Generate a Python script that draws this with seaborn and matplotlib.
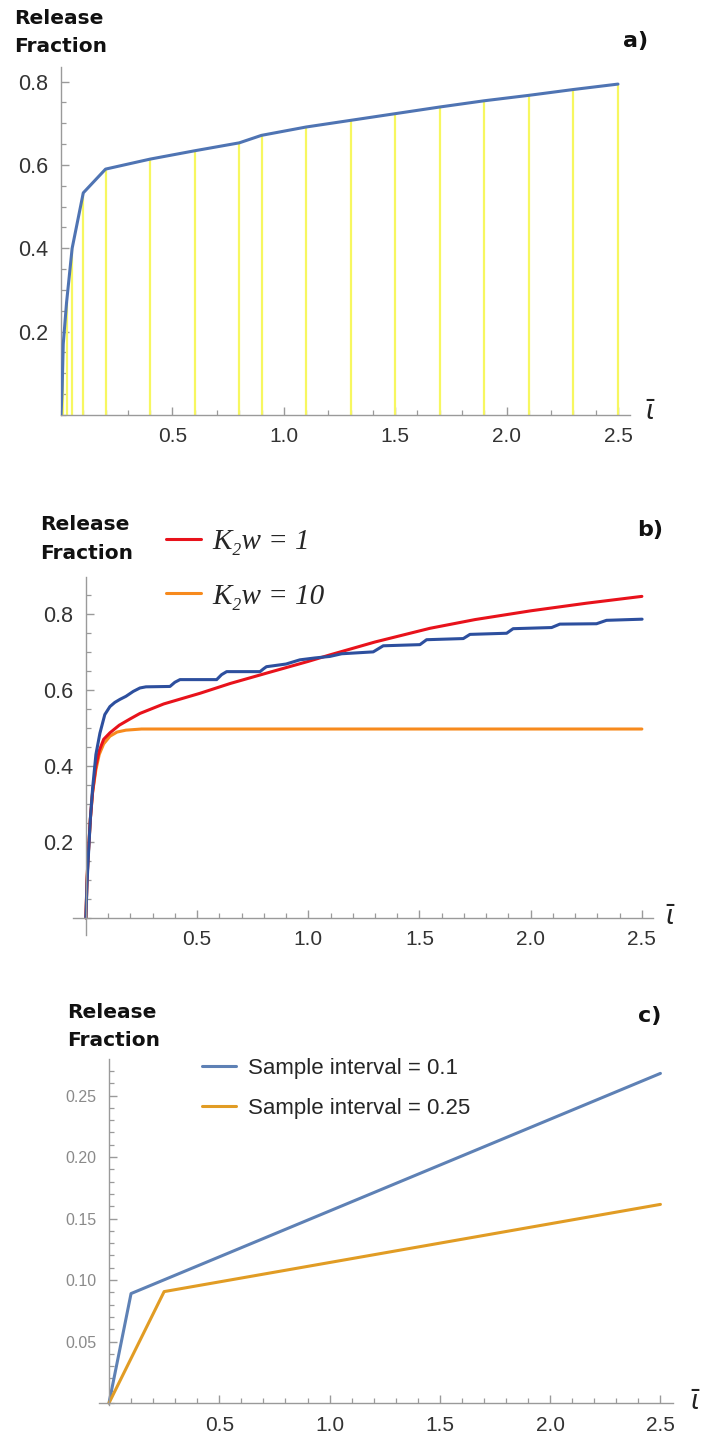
import matplotlib
matplotlib.use("Agg")
import matplotlib.pyplot as plt
import seaborn as sns
import numpy as np
import pandas as pd
from matplotlib.ticker import FixedLocator, MultipleLocator, FormatStrFormatter
from matplotlib.font_manager import FontProperties

# ---------------- data ----------------
# panel a: sampled release fraction (sample times and values)
a_time = [0, 0.005, 0.01, 0.025, 0.05, 0.1, 0.2, 0.4, 0.6, 0.8, 0.9, 1.1, 1.3,
          1.5, 1.7, 1.9, 2.1, 2.3, 2.5]
a_frac = [0, 0.06, 0.17, 0.27, 0.40, 0.533, 0.590, 0.614, 0.634, 0.653, 0.671,
          0.691, 0.707, 0.723, 0.739, 0.754, 0.767, 0.781, 0.794]

# panel b: stepwise measured curve (blue)
b_blue_t = [0, 0.005, 0.01, 0.02, 0.03, 0.045, 0.063, 0.085, 0.108, 0.13, 0.153,
            0.18, 0.213, 0.243, 0.27, 0.378, 0.40, 0.423, 0.588, 0.61, 0.633,
            0.783, 0.80, 0.812, 0.85, 0.90, 0.962, 1.03, 1.097, 1.15, 1.292,
            1.337, 1.502, 1.532, 1.697, 1.727, 1.892, 1.921, 2.094, 2.131,
            2.296, 2.341, 2.501]
b_blue_v = [0, 0.09, 0.15, 0.26, 0.34, 0.43, 0.486, 0.535, 0.556, 0.567, 0.575,
            0.583, 0.596, 0.605, 0.608, 0.609, 0.620, 0.627, 0.627, 0.640, 0.648,
            0.648, 0.656, 0.661, 0.664, 0.668, 0.679, 0.684, 0.688, 0.695, 0.700,
            0.716, 0.719, 0.732, 0.735, 0.746, 0.749, 0.761, 0.764, 0.773,
            0.774, 0.783, 0.786]
# panel b: model K2w = 1 (red)
b_red_t = [0, 0.005, 0.01, 0.02, 0.03, 0.045, 0.06, 0.08, 0.108, 0.15, 0.2,
           0.243, 0.35, 0.513, 0.65, 0.812, 1.0, 1.097, 1.3, 1.547, 1.75, 2.0,
           2.25, 2.5]
b_red_v = [0, 0.10, 0.16, 0.26, 0.33, 0.40, 0.44, 0.47, 0.487, 0.507, 0.524,
           0.538, 0.563, 0.591, 0.617, 0.644, 0.675, 0.692, 0.726, 0.762, 0.785,
           0.808, 0.828, 0.846]
# panel b: model K2w = 10 (orange)
b_org_t = [0, 0.005, 0.01, 0.02, 0.03, 0.045, 0.06, 0.08, 0.108, 0.14, 0.18,
           0.25, 0.4, 2.5]
b_org_v = [0, 0.10, 0.16, 0.26, 0.33, 0.39, 0.43, 0.458, 0.478, 0.489, 0.494,
           0.497, 0.497, 0.497]

# panel c: sample intervals
c_t01 = [0, 0.1, 2.5]
c_v01 = [0, 0.089, 0.268]
c_t025 = [0, 0.25, 2.5]
c_v025 = [0, 0.0906, 0.1615]

legend_b = ["K\u2082w = 1", "K\u2082w = 10"]
legend_c = ["Sample interval = 0.1", "Sample interval = 0.25"]

# ---------------- style ----------------
sns.set_theme(style="white")
plt.rcParams['font.family'] = ['Liberation Sans', 'DejaVu Sans']

W, H = 703, 1438
fig = plt.figure(figsize=(W / 100, H / 100), dpi=100)


def rect(l, r, b, t):
    return [l / W, 1 - b / H, (r - l) / W, (b - t) / H]


def fx(x):
    return x / W


def fy(y):
    return 1 - y / H


AX_COL = '#9a9a9a'


def style_axis(ax, yticks, ymin_step, yfmt, ylab_col, ylab_size, cross_zero):
    for s in ['top', 'right']:
        ax.spines[s].set_visible(False)
    for s in ['left', 'bottom']:
        ax.spines[s].set_color(AX_COL)
        ax.spines[s].set_linewidth(1.0)
        if cross_zero:
            ax.spines[s].set_position(('data', 0))
    ax.xaxis.set_major_locator(FixedLocator([0.5, 1.0, 1.5, 2.0, 2.5]))
    ax.xaxis.set_minor_locator(MultipleLocator(0.1))
    ax.xaxis.set_major_formatter(FormatStrFormatter('%.1f'))
    ax.yaxis.set_major_locator(FixedLocator(yticks))
    ax.yaxis.set_minor_locator(MultipleLocator(ymin_step))
    ax.yaxis.set_major_formatter(FormatStrFormatter(yfmt))
    ax.tick_params(which='both', bottom=True, left=True, top=False,
                   right=False)
    ax.tick_params(which='major', direction='in', length=6, width=1,
                   color=AX_COL)
    ax.tick_params(which='minor', direction='in', length=3.5, width=0.9,
                   color=AX_COL)
    ax.tick_params(axis='x', which='major', labelsize=15, labelcolor='#333333',
                   pad=9)
    ax.tick_params(axis='y', which='major', labelsize=ylab_size,
                   labelcolor=ylab_col, pad=9)
    ax.set_xlabel('')
    ax.set_ylabel('')
    ax.grid(False)


# ---------------- panel a ----------------
ax_a = fig.add_axes(rect(61, 630, 415, 67))
ax_a.vlines(a_time, 0, a_frac, colors='#f7f760', linewidth=1.6, zorder=1)
sns.lineplot(x=a_time, y=a_frac, ax=ax_a, color='#4f74b3', linewidth=2.2,
             estimator=None, sort=False, zorder=3)
ax_a.set_xlim(0, 2.554)
ax_a.set_ylim(0, 0.835)
style_axis(ax_a, [0.2, 0.4, 0.6, 0.8], 0.05, '%.1f', '#333333', 15.5, False)

# ---------------- panel b ----------------
ax_b = fig.add_axes(rect(73, 653, 935, 577))
sns.lineplot(x=b_org_t, y=b_org_v, ax=ax_b, color='#f78a1d', linewidth=2.2,
             estimator=None, sort=False, label=legend_b[1])
sns.lineplot(x=b_red_t, y=b_red_v, ax=ax_b, color='#e8121b', linewidth=2.2,
             estimator=None, sort=False, label=legend_b[0])
sns.lineplot(x=b_blue_t, y=b_blue_v, ax=ax_b, color='#2d4f9e', linewidth=2.2,
             estimator=None, sort=False)
ax_b.set_xlim(-0.058, 2.55)
ax_b.set_ylim(-0.045, 0.897)
style_axis(ax_b, [0.2, 0.4, 0.6, 0.8], 0.05, '%.1f', '#333333', 15.5, True)
h, l = ax_b.get_legend_handles_labels()
order = [l.index(legend_b[0]), l.index(legend_b[1])]
ax_b.legend([h[i] for i in order], [l[i] for i in order],
            loc='upper left', bbox_to_anchor=(fx(166), fy(529)),
            bbox_transform=fig.transFigure, frameon=False,
            prop=FontProperties(family=['Liberation Serif', 'DejaVu Serif'],
                                style='italic', size=21),
            handlelength=1.2, handletextpad=0.4, labelspacing=0.95,
            borderpad=0, borderaxespad=0)

# ---------------- panel c ----------------
ax_c = fig.add_axes(rect(99, 673, 1405, 1059))
sns.lineplot(x=c_t01, y=c_v01, ax=ax_c, color='#5e81b5', linewidth=2.2,
             estimator=None, sort=False, label=legend_c[0])
sns.lineplot(x=c_t025, y=c_v025, ax=ax_c, color='#e19c24', linewidth=2.2,
             estimator=None, sort=False, label=legend_c[1])
ax_c.set_xlim(-0.0453, 2.557)
ax_c.set_ylim(-0.0016, 0.2797)
style_axis(ax_c, [0.05, 0.10, 0.15, 0.20, 0.25], 0.01, '%.2f', '#8a8a8a',
           11.5, True)
ax_c.legend(loc='upper left', bbox_to_anchor=(fx(202), fy(1058)),
            bbox_transform=fig.transFigure, frameon=False,
            prop=FontProperties(family=['Liberation Sans', 'DejaVu Sans'],
                                size=16),
            handlelength=1.55, handletextpad=0.5, labelspacing=0.85,
            borderpad=0, borderaxespad=0)

# ---------------- texts ----------------
for (x0, y1, y2) in [(14, 19, 47), (40, 525, 553), (67, 1012, 1040)]:
    fig.text(fx(x0), fy(y1), "Release", fontsize=14.5, fontweight='bold',
             family=['DejaVu Sans'], va='center', ha='left', color='#111111')
    fig.text(fx(x0), fy(y2), "Fraction", fontsize=14.5, fontweight='bold',
             family=['DejaVu Sans'], va='center', ha='left', color='#111111')

for (x0, y0, s) in [(636, 41, 'a)'), (650, 530, 'b)'), (650, 1016, 'c)')]:
    fig.text(fx(x0), fy(y0), s, fontsize=16, fontweight='bold',
             family=['DejaVu Sans'], va='center', ha='center', color='#111111')

for (x0, y0) in [(650, 413), (670, 918), (695, 1403)]:
    fig.text(fx(x0), fy(y0), r"$\bar{\iota}$", fontsize=19, va='center',
             ha='center', color='#222222')

fig.savefig("out.png", dpi=100)
